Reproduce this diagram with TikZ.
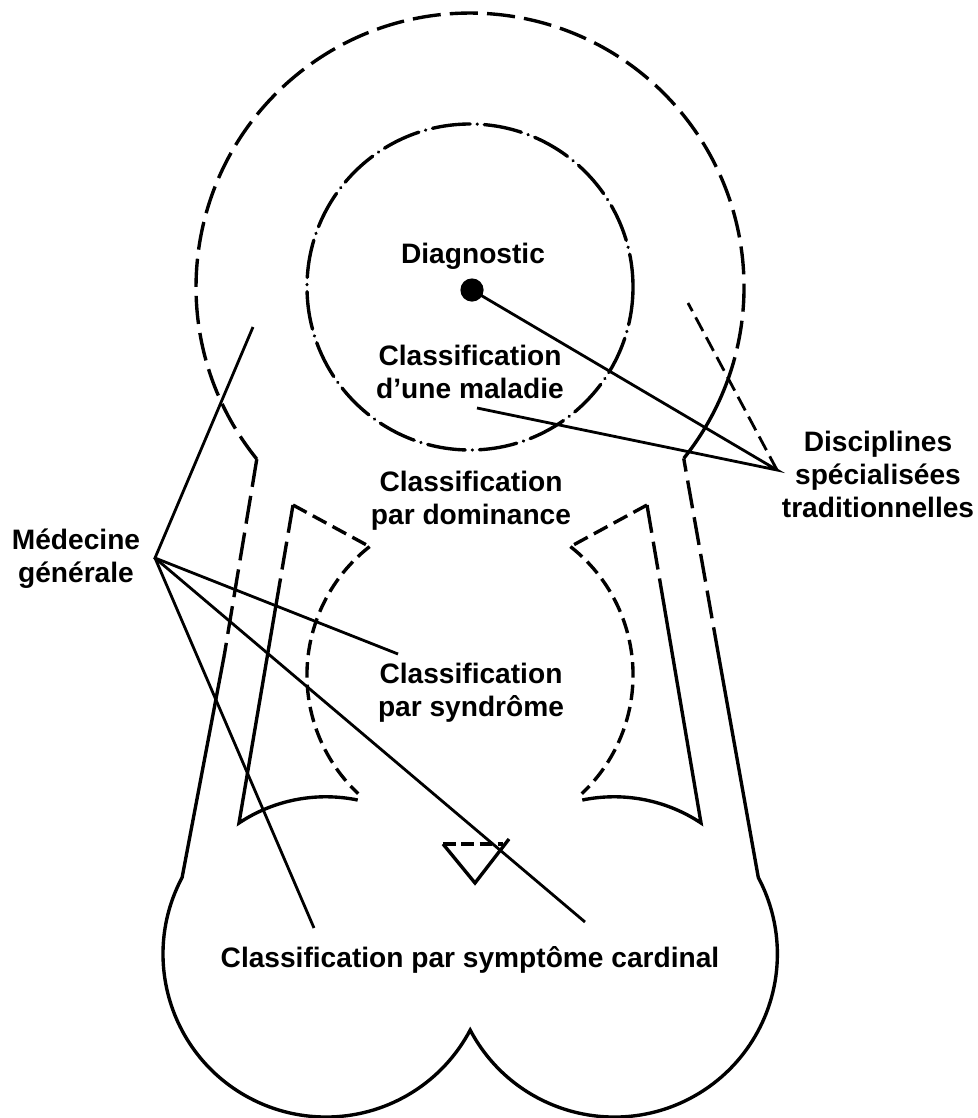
\documentclass[tikz,border=0pt]{standalone}
\usepackage{fontspec}
\setmainfont{Liberation Sans}
\usetikzlibrary{positioning}

\begin{document}
\begin{tikzpicture}[x=0.025cm,y=-0.025cm,line width=2.4pt,
    lbl/.style={align=center,inner sep=0pt,font=\fontsize{20}{23.5}\selectfont\bfseries},
    lead/.style={line width=2pt},
    longdash/.style={dash pattern=on 20pt off 6.5pt},
    shortdash/.style={dash pattern=on 11pt off 5pt},
    dashdot/.style={dash pattern=on 27pt off 5pt on 0.1pt off 5pt,line cap=round}
]
\useasboundingbox (0,0) rectangle (978,1118);

\coordinate (O) at (470,287);
\coordinate (kL) at (256.8,459.1);
\coordinate (kR) at (683.7,458.3);
\coordinate (sR) at (727.8,379.8);
\coordinate (aL) at (224.3,655);
\coordinate (aR) at (718.5,655);
\coordinate (lobe) at (182.1,877.5);

\draw[longdash] (kL) arc[start angle=141.1,end angle=379.8,radius=274];
\draw (sR) arc[start angle=19.8,end angle=38.7,radius=274];
\draw[dashdot] (O) circle[radius=163];

\draw[longdash] (kL) -- (aL);
\draw (aL) -- (lobe) arc[start angle=208,end angle=27.8,radius=163]
    arc[start angle=152.2,end angle=-28,radius=163] -- (aR);
\draw[longdash] (aR) -- (kR);

\coordinate (tL) at (293,505);
\coordinate (tR) at (647,505);
\coordinate (sL) at (369.6,546.6);
\coordinate (sRt) at (570.4,546.6);
\draw[shortdash] (sL) arc[start angle=232,end angle=133.3,radius=163];
\draw[shortdash] (sRt) arc[start angle=-52,end angle=46.7,radius=163];
\draw[shortdash] (tL) -- (sL);
\draw[shortdash] (tR) -- (sRt);
\draw[longdash] (tL) -- (276,605);
\draw[longdash] (tR) -- (664,605);
\draw (276,605) -- (239,823) arc[start angle=-123.6,end angle=-78.3,radius=157];
\draw (664,605) -- (701,823) arc[start angle=-56.4,end angle=-101.7,radius=157];

\coordinate (t1) at (443,844);
\coordinate (t2) at (509,839);
\coordinate (t3) at (475,883);
\draw[dash pattern=on 9pt off 4pt] (t1) -- (503,844);
\draw (t1) -- (t3) -- (t2);

\node[circle,fill,inner sep=0pt,minimum size=0.58cm] (dot) at (472,290) {};
\node[lbl] (diag) at (473,256) {Diagnostic};
\node[lbl] (mal) at (470,372) {Classification\\d’une maladie};
\node[lbl] (dom) at (471,501) {Classification\\par dominance};
\node[lbl] (syn) at (471,693) {Classification\\par syndrôme};
\node[lbl] (card) at (470,960) {Classification par symptôme cardinal};
\node[lbl] (med) at (76,559) {Médecine\\générale};
\node[lbl] (disc) at (878,474) {Disciplines\\spécialisées\\traditionnelles};

\coordinate (mg) at (155,558);
\coordinate (m1) at (253,327);
\coordinate (m2) at (398,654);
\coordinate (m3) at (585,922);
\coordinate (m4) at (314,928);
\draw[lead] (m1) -- (mg) -- (m2); \draw[lead] (mg) -- (m3); \draw[lead] (mg) -- (m4);

\coordinate (ds) at (777,470);
\coordinate (d2) at (477,408);
\coordinate (d3) at (688,303);
\draw[lead] (dot.center) -- (ds) -- (d2);
\draw[lead,shortdash] (ds) -- (d3);
\end{tikzpicture}
\end{document}
